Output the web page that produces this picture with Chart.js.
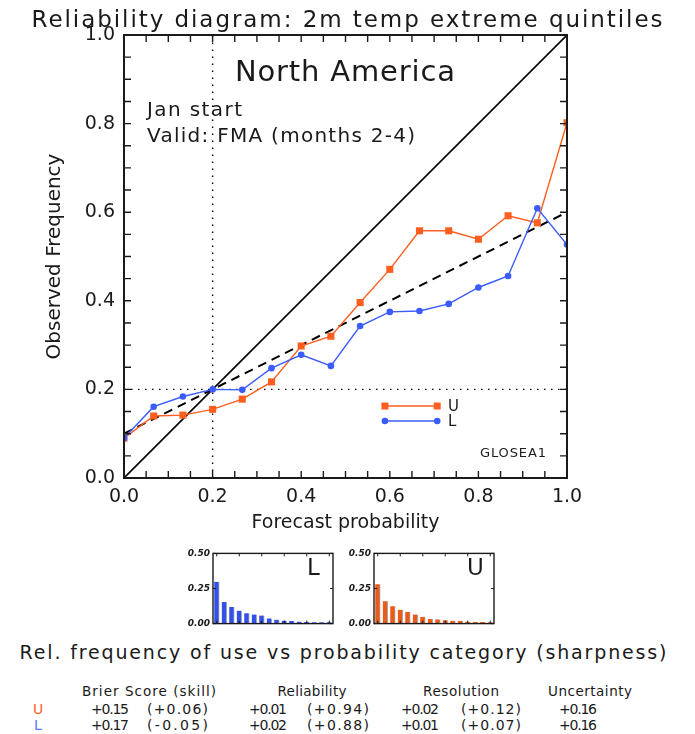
<!DOCTYPE html>
<html>
<head>
<meta charset="utf-8">
<title>Reliability diagram</title>
<script src="https://cdn.jsdelivr.net/npm/chart.js@4.4.1/dist/chart.umd.min.js"></script>
<style>
  html, body { margin: 0; padding: 0; background: #fff; }
  #page { position: relative; width: 695px; height: 734px; overflow: hidden;
          font-family: "DejaVu Sans", sans-serif; color: #1a1a1a; }
  canvas { position: absolute; }
  .txt { position: absolute; white-space: nowrap; line-height: 1; }
</style>
</head>
<body>
<div id="page">
  <canvas id="mainChart" width="695" height="540" style="left:0;top:0"></canvas>
  <canvas id="histL" width="175" height="87" style="left:163px;top:545px"></canvas>
  <canvas id="histU" width="175" height="87" style="left:324px;top:545px"></canvas>
</div>
<script>
// forecast probability categories (16 bins)
const probability = [0.000, 0.067, 0.133, 0.200, 0.267, 0.333, 0.400, 0.467,
                     0.533, 0.600, 0.667, 0.733, 0.800, 0.867, 0.933, 1.000];

// observed frequency, upper (U) and lower (L) quintile
const upperObs = [0.090, 0.140, 0.142, 0.155, 0.178, 0.217, 0.298, 0.320,
                  0.396, 0.471, 0.558, 0.558, 0.539, 0.592, 0.576, 0.802];
const lowerObs = [0.090, 0.161, 0.184, 0.200, 0.199, 0.248, 0.278, 0.253,
                  0.343, 0.375, 0.377, 0.393, 0.430, 0.456, 0.609, 0.527];

// relative frequency of use of each category (sharpness)
const upperUse = [0.280, 0.160, 0.124, 0.099, 0.083, 0.064, 0.048, 0.032,
                  0.030, 0.023, 0.020, 0.020, 0.014, 0.011, 0.011, 0.009];
const lowerUse = [0.298, 0.154, 0.119, 0.092, 0.073, 0.064, 0.057, 0.037,
                  0.028, 0.021, 0.018, 0.014, 0.011, 0.009, 0.009, 0.009];

// reference lines
const climatology = 0.2;
const unitRange = [0, 1];
const fitLine = [0.10, 0.60];   // observed freq at forecast 0 and 1

// tick labels
const mainTicks = [0.0, 0.2, 0.4, 0.6, 0.8, 1.0];
const useTicks = [0.00, 0.25, 0.50];

// scores table
const members = ['U', 'L'];
const brier = [0.15, 0.17];
const brierSkill = [0.06, -0.05];
const reliab = [0.01, 0.02];
const reliabSkill = [0.94, 0.88];
const resol = [0.02, 0.01];
const resolSkill = [0.12, 0.07];
const uncert = [0.16, 0.16];

const ORANGE = '#ff5e1f';
const BLUE = '#3a5cff';
const INK = '#1a1a1a';

Chart.defaults.font.family = '"DejaVu Sans", sans-serif';
Chart.defaults.color = INK;

const pts = (xs, ys) => xs.map((x, i) => ({ x: x, y: ys[i] }));

// box round the plot with inward ticks on all four sides
const frame = {
  id: 'frame',
  afterDatasetsDraw(chart, args, o) {
    const { ctx, chartArea: a, scales: { x, y } } = chart;
    ctx.save();
    ctx.strokeStyle = INK;
    ctx.lineWidth = o.tickWidth;
    ctx.beginPath();
    o.xTicks.forEach(v => {
      const px = x.getPixelForValue(v);
      ctx.moveTo(px, a.bottom); ctx.lineTo(px, a.bottom - o.len);
      ctx.moveTo(px, a.top); ctx.lineTo(px, a.top + o.len);
    });
    o.yTicks.forEach(v => {
      const py = y.getPixelForValue(v);
      ctx.moveTo(a.left, py); ctx.lineTo(a.left + o.len, py);
      ctx.moveTo(a.right, py); ctx.lineTo(a.right - o.len, py);
    });
    ctx.stroke();
    ctx.lineWidth = o.width;
    ctx.strokeRect(a.left, a.top, a.right - a.left, a.bottom - a.top);
    ctx.restore();
  }
};

// little key inside the plot
const key = {
  id: 'key',
  afterDatasetsDraw(chart, args, o) {
    const { ctx, scales: { x, y } } = chart;
    const x0 = x.getPixelForValue(o.x0), x1 = x.getPixelForValue(o.x1);
    o.rows.forEach(r => {
      const py = y.getPixelForValue(r.y);
      ctx.save();
      ctx.strokeStyle = r.color; ctx.fillStyle = r.color; ctx.lineWidth = 1.5;
      ctx.beginPath(); ctx.moveTo(x0, py); ctx.lineTo(x1, py); ctx.stroke();
      [x0, x1].forEach(px => {
        if (r.style === 'rect') ctx.fillRect(px - 3.5, py - 3.5, 7, 7);
        else { ctx.beginPath(); ctx.arc(px, py, 3.3, 0, Math.PI * 2); ctx.fill(); }
      });
      ctx.restore();
    });
  }
};

const minorTicks = [];
for (let i = 0; i <= 20; i++) minorTicks.push(i * 0.05);

new Chart(document.getElementById('mainChart'), {
  type: 'line',
  data: {
    datasets: [
      { label: 'L', data: pts(probability, lowerObs), borderColor: BLUE, backgroundColor: BLUE,
        borderWidth: 1.4, pointStyle: 'circle', pointRadius: 3.3, pointBorderWidth: 0 },
      { label: 'U', data: pts(probability, upperObs), borderColor: ORANGE, backgroundColor: ORANGE,
        borderWidth: 1.4, pointStyle: 'rect', pointRadius: 5, pointBorderWidth: 0 },
      { label: 'fit', data: pts(unitRange, fitLine), borderColor: '#000',
        borderWidth: 2, borderDash: [9, 6], pointRadius: 0 },
      { label: 'perfect', data: pts(unitRange, unitRange), borderColor: '#000',
        borderWidth: 1.6, pointRadius: 0 },
      { label: 'clim obs', data: pts(unitRange, [climatology, climatology]), borderColor: '#000',
        borderWidth: 1.4, borderDash: [1.5, 5.5], pointRadius: 0 },
      { label: 'clim fc', data: pts([climatology, climatology], unitRange), borderColor: '#000',
        borderWidth: 1.4, borderDash: [1.5, 5.5], pointRadius: 0 }
    ]
  },
  options: {
    responsive: false,
    animation: false,
    elements: { line: { tension: 0 } },
    layout: { padding: { left: 0, top: 35, right: 128, bottom: 0 } },
    plugins: {
      legend: { display: false },
      tooltip: { enabled: false },
      frame: { xTicks: minorTicks, yTicks: minorTicks, len: 7, tickWidth: 1.4, width: 2 },
      key: { x0: 0.589, x1: 0.707, rows: [
        { y: 0.1625, color: ORANGE, style: 'rect' },
        { y: 0.1287, color: BLUE, style: 'circle' } ] }
    },
    scales: {
      x: {
        type: 'linear', min: 0, max: 1,
        afterBuildTicks: s => { s.ticks = mainTicks.map(v => ({ value: v })); },
        afterFit: s => { s.height = 62; },
        grid: { display: false, drawTicks: false },
        border: { display: false },
        ticks: { padding: 8, maxRotation: 0, autoSkip: false, font: { size: 19 },
                 callback: v => v.toFixed(1) },
        title: { display: true, text: 'Forecast probability', font: { size: 19 },
                 padding: { top: 0, bottom: 6 } }
      },
      y: {
        type: 'linear', min: 0, max: 1,
        afterBuildTicks: s => { s.ticks = mainTicks.map(v => ({ value: v })); },
        afterFit: s => { s.width = 124; },
        grid: { display: false, drawTicks: false },
        border: { display: false },
        ticks: { padding: 9, font: { size: 19 }, callback: v => v.toFixed(1) },
        title: { display: true, text: 'Observed Frequency', font: { size: 20 },
                 padding: { top: 43, bottom: 0 } }
      }
    }
  },
  plugins: [frame, key]
});

function histChart(id, values, color) {
  return new Chart(document.getElementById(id), {
    type: 'bar',
    data: {
      labels: probability.map(p => p.toFixed(3)),
      datasets: [{ data: values, backgroundColor: color, borderColor: '#a4acb4',
                   borderWidth: { top: 0, left: 0, bottom: 0, right: 1 },
                   borderSkipped: false, barThickness: 5 }]
    },
    options: {
      responsive: false,
      animation: false,
      layout: { padding: { left: 0, top: 7, right: 5, bottom: 7 } },
      plugins: {
        legend: { display: false },
        tooltip: { enabled: false },
        frame: { xTicks: mainTicks.map(v => probability.indexOf(v)), yTicks: useTicks,
                 len: 3, tickWidth: 1, width: 1.4 }
      },
      scales: {
        x: {
          offset: true,
          afterFit: s => { s.height = 0; },
          grid: { display: false, drawTicks: false },
          border: { display: false },
          ticks: { display: false }
        },
        y: {
          min: 0, max: 0.5,
          afterBuildTicks: s => { s.ticks = useTicks.map(v => ({ value: v })); },
          afterFit: s => { s.width = 50; },
          grid: { display: false, drawTicks: false },
          border: { display: false },
          ticks: { padding: 3, font: { size: 9, weight: 'bold', style: 'italic' },
                   callback: v => v.toFixed(2) }
        }
      }
    },
    plugins: [frame]
  });
}
histChart('histL', lowerUse, '#3350e8');
histChart('histU', upperUse, '#ea5a18');

// ---- text ----
const page = document.getElementById('page');
function addText(t) {
  const el = document.createElement('div');
  el.className = 'txt';
  el.textContent = t.text;
  el.style.fontSize = t.size + 'px';
  if (t.color) el.style.color = t.color;
  page.appendChild(el);
  let w = el.getBoundingClientRect().width;
  if (t.w && t.text.length > 1) {
    el.style.letterSpacing = ((t.w - w) / (t.text.length - 1)) + 'px';
    w = t.w;
  }
  const h = el.getBoundingClientRect().height;
  el.style.left = (t.align === 'left' ? t.x : t.x - w / 2) + 'px';
  el.style.top = (t.y - h / 2) + 'px';
}

const sgn = v => (v < 0 ? '-' : '+') + Math.abs(v).toFixed(2);

[
  { text: 'Reliability diagram: 2m temp extreme quintiles', x: 347, y: 19, size: 23, w: 631 },
  { text: 'North America', x: 345, y: 71, size: 29, w: 220 },
  { text: 'Jan start', x: 147, y: 109, size: 20, w: 95, align: 'left' },
  { text: 'Valid: FMA (months 2-4)', x: 147, y: 135, size: 20, w: 268, align: 'left' },
  { text: 'GLOSEA1', x: 480, y: 452, size: 13, w: 66, align: 'left' },
  { text: 'U', x: 448, y: 406, size: 15, align: 'left' },
  { text: 'L', x: 448, y: 421, size: 15, align: 'left' },
  { text: 'L', x: 307, y: 567, size: 23, align: 'left' },
  { text: 'U', x: 467, y: 567, size: 23, align: 'left' },
  { text: 'Rel. frequency of use vs probability category (sharpness)', x: 343, y: 652, size: 19, w: 647 },
  { text: 'Brier Score (skill)', x: 149, y: 692, size: 13.5, w: 134 },
  { text: 'Reliability', x: 312, y: 692, size: 13.5, w: 69 },
  { text: 'Resolution', x: 461, y: 692, size: 13.5, w: 76 },
  { text: 'Uncertainty', x: 590, y: 692, size: 13.5, w: 84 }
].forEach(addText);

const rowY = [709, 725];
const rowColor = [ORANGE, '#5878ff'];
members.forEach((m, i) => {
  const y = rowY[i];
  addText({ text: m, x: 38, y: y, size: 14, color: rowColor[i] });
  addText({ text: sgn(brier[i]), x: 91, y: y, size: 14, w: 38, align: 'left' });
  addText({ text: '(' + sgn(brierSkill[i]) + ')', x: 147, y: y, size: 14, w: 61, align: 'left' });
  addText({ text: sgn(reliab[i]), x: 249, y: y, size: 14, w: 38, align: 'left' });
  addText({ text: '(' + sgn(reliabSkill[i]) + ')', x: 307, y: y, size: 14, w: 62, align: 'left' });
  addText({ text: sgn(resol[i]), x: 401, y: y, size: 14, w: 38, align: 'left' });
  addText({ text: '(' + sgn(resolSkill[i]) + ')', x: 461, y: y, size: 14, w: 60, align: 'left' });
  addText({ text: sgn(uncert[i]), x: 559, y: y, size: 14, w: 38, align: 'left' });
});
</script>
</body>
</html>
